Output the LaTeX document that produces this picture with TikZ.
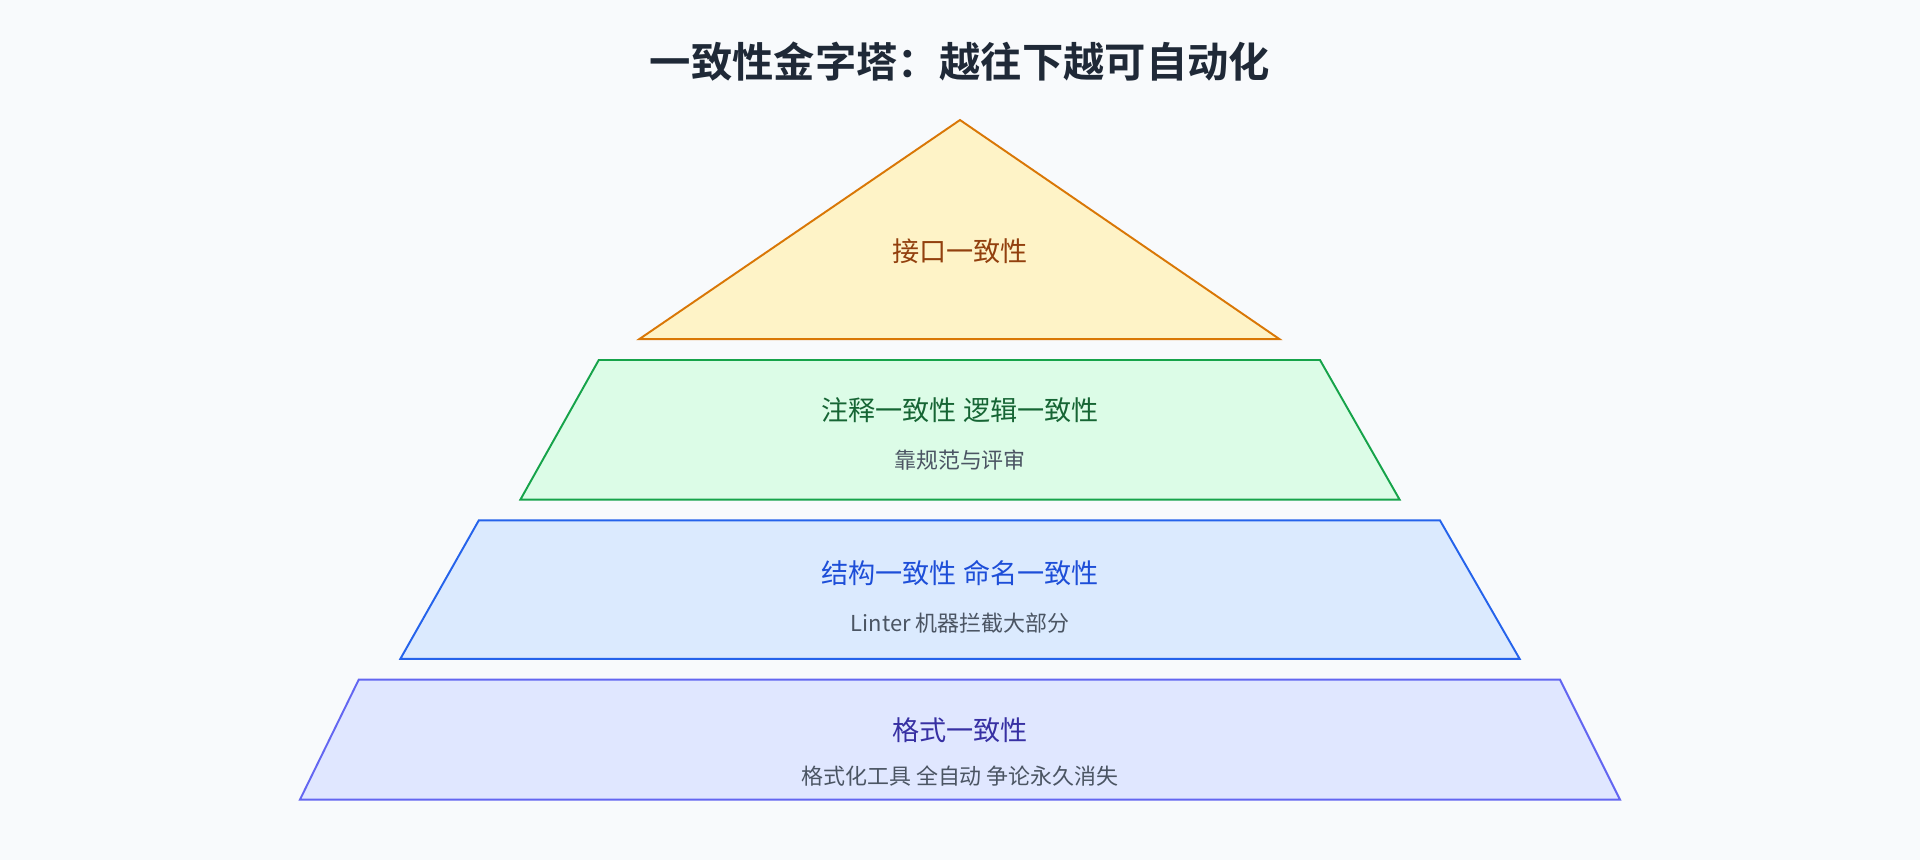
\documentclass[tikz,border=0pt]{standalone}
\usepackage{fontspec}
\setmainfont{Noto Sans CJK SC}
\newfontfamily\cjkb{Noto Sans CJK SC}[BoldFont=* Bold]
\begin{document}
\begin{tikzpicture}[x=0.01cm,y=-0.01cm,
  lvl/.style={line width=0.45pt,line join=miter},
  main/.style={font=\fontsize{6.3pt}{7pt}\selectfont},
  sub/.style={font=\fontsize{5.1pt}{6pt}\selectfont,text=subc}]
\definecolor{bg}{HTML}{F8FAFC}
\definecolor{subc}{HTML}{4B5563}
\definecolor{tc}{HTML}{1F2937}
\definecolor{y1}{HTML}{FEF3C7}\definecolor{y2}{HTML}{D97706}\definecolor{y3}{HTML}{92400E}
\definecolor{g1}{HTML}{DCFCE7}\definecolor{g2}{HTML}{16A34A}\definecolor{g3}{HTML}{166534}
\definecolor{b1}{HTML}{DBEAFE}\definecolor{b2}{HTML}{2563EB}\definecolor{b3}{HTML}{1D4ED8}
\definecolor{i1}{HTML}{E0E7FF}\definecolor{i2}{HTML}{6366F1}\definecolor{i3}{HTML}{3730A3}
\fill[bg] (0,0) rectangle (1568,702);
\useasboundingbox (0,0) rectangle (1568,702);
\node[font=\cjkb\bfseries\fontsize{9.6pt}{11pt}\selectfont,text=tc] (title) at (784,50) {一致性金字塔：越往下越可自动化};
\filldraw[lvl,fill=y1,draw=y2] (784,98) -- (1045,277) -- (522,277) -- cycle;
\node[main,text=y3] (l1) at (784,205) {接口一致性};
\filldraw[lvl,fill=g1,draw=g2] (489,294) -- (1078,294) -- (1143,408) -- (425,408) -- cycle;
\node[main,text=g3] (l2) at (784,335) {注释一致性 逻辑一致性};
\node[sub] (s2) at (784,376) {靠规范与评审};
\filldraw[lvl,fill=b1,draw=b2] (391,425) -- (1176,425) -- (1241,538) -- (327,538) -- cycle;
\node[main,text=b3] (l3) at (784,468) {结构一致性 命名一致性};
\node[sub] (s3) at (784,509) {Linter 机器拦截大部分};
\filldraw[lvl,fill=i1,draw=i2] (293,555) -- (1274,555) -- (1323,653) -- (245,653) -- cycle;
\node[main,text=i3] (l4) at (784,596) {格式一致性};
\node[sub] (s4) at (784,634) {格式化工具 全自动 争论永久消失};
\end{tikzpicture}
\end{document}
